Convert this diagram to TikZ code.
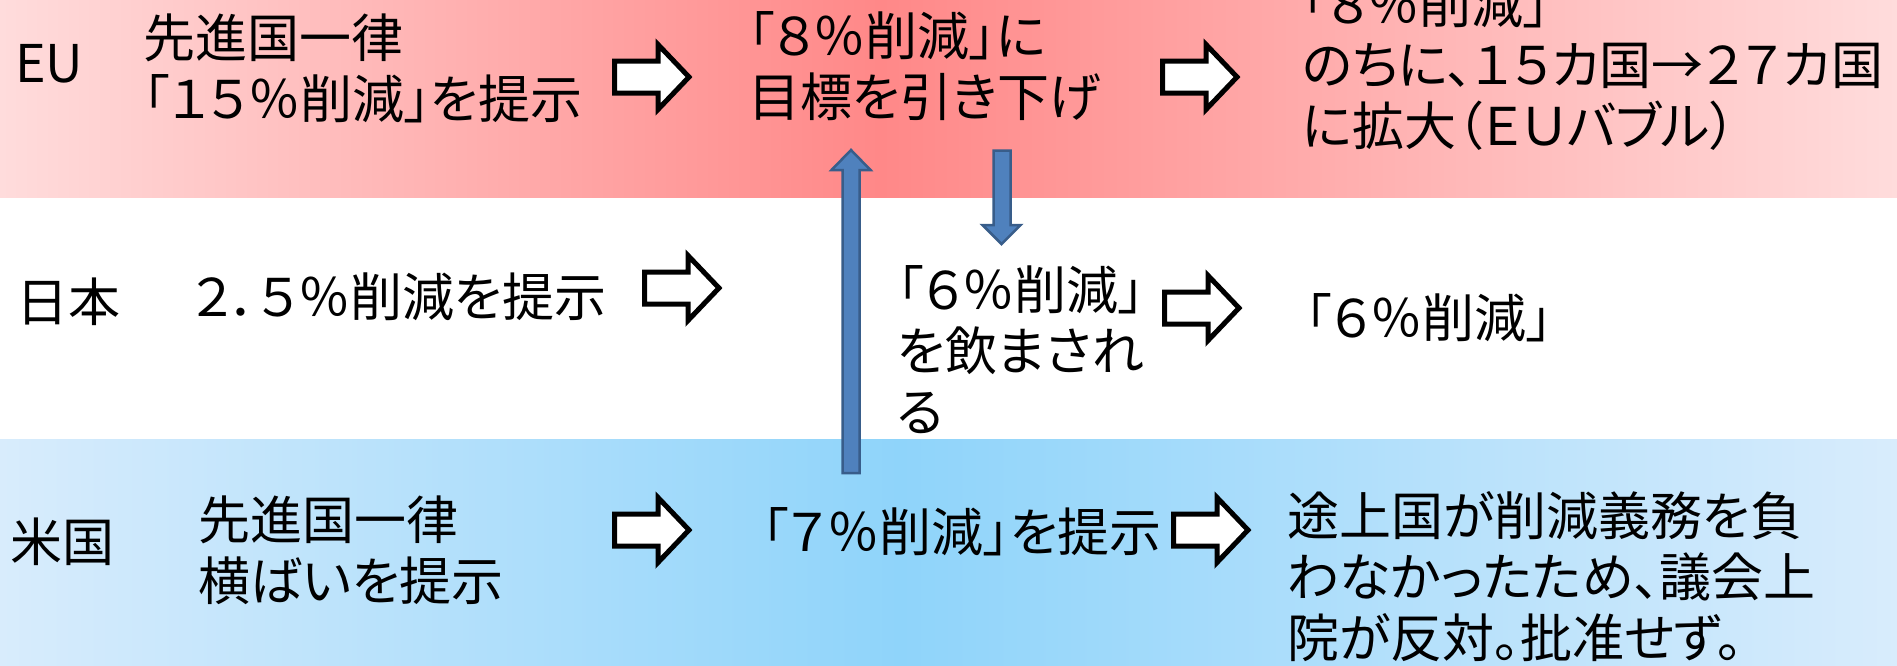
\documentclass[tikz,border=0pt]{standalone}
\usepackage{fontspec}
\setmainfont{Noto Sans CJK JP}[RawFeature={+palt}]
\definecolor{eul}{RGB}{255,220,220}
\definecolor{eud}{RGB}{255,136,136}
\definecolor{usl}{RGB}{216,236,252}
\definecolor{usd}{RGB}{143,212,250}
\definecolor{afill}{HTML}{4F81BD}
\definecolor{aline}{HTML}{385D8A}
\tikzset{
  txt/.style={font=\fontsize{52}{61}\selectfont, align=left, inner sep=0pt, anchor=west, text=black},
  blockarrow/.style={draw=black, line width=5pt, fill=white, line join=miter},
  bluearrow/.style={draw=aline, line width=2.5pt, fill=afill, line join=miter}
}
\newcommand{\whitearrow}[2]{%
  \draw[blockarrow] (#1+2.5,#2-16) -- (#1+46,#2-16) -- (#1+46,#2-32.5) -- (#1+77,#2)
    -- (#1+46,#2+32.5) -- (#1+46,#2+16) -- (#1+2.5,#2+16) -- cycle;}
\begin{document}
\begin{tikzpicture}[x=1pt,y=-1pt]
\useasboundingbox (0,0) rectangle (1897,665);
\clip (0,0) rectangle (1897,665);
% bands
\shade[left color=eul, right color=eud] (0,0) rectangle (880,197);
\shade[left color=eud, right color=eul] (880,0) rectangle (1897,197);
\shade[left color=usl, right color=usd] (0,439) rectangle (900,665);
\shade[left color=usd, right color=usl] (900,439) rectangle (1897,665);
% EU row
\node[txt] (eu) at (15,64) {EU};
\node[txt] (eu1) at (143,68) {先進国一律\\「１５％削減」を提示};
\node[txt] (eu2) at (748,66) {「８％削減」に\\目標を引き下げ};
\node[txt] (eu3) at (1302,65) {「８％削減」\\のちに、１５カ国→２７カ国\\に拡大（ＥＵバブル）};
% Japan row
\node[txt] (jp) at (16,302) {日本};
\node[txt] (jp1) at (193,297) {２．５％削減を提示};
\node[txt] (jp2) at (897,350) {「６％削減」\\を飲まされ\\る};
\node[txt] (jp3) at (1305,318) {「６％削減」};
% US row
\node[txt] (us) at (10,542) {米国};
\node[txt] (us1) at (198,550) {先進国一律\\横ばいを提示};
\node[txt] (us2) at (762,532) {「７％削減」を提示};
\node[txt] (us3) at (1287,577) {途上国が削減義務を負\\わなかったため、議会上\\院が反対。批准せず。};
% white block arrows
\whitearrow{612}{77}
\whitearrow{1160}{77}
\whitearrow{642}{288}
\whitearrow{1162}{308}
\whitearrow{612}{530}
\whitearrow{1171}{530}
% blue arrows
\draw[bluearrow] (842.5,473) -- (842.5,170) -- (831.5,170) -- (851,150) -- (870.5,170) -- (859.5,170) -- (859.5,473) -- cycle;
\draw[bluearrow] (993.5,150.5) -- (1010.5,150.5) -- (1010.5,225) -- (1020.5,225) -- (1001.5,244) -- (982.5,225) -- (993.5,225) -- cycle;
\end{tikzpicture}
\end{document}
